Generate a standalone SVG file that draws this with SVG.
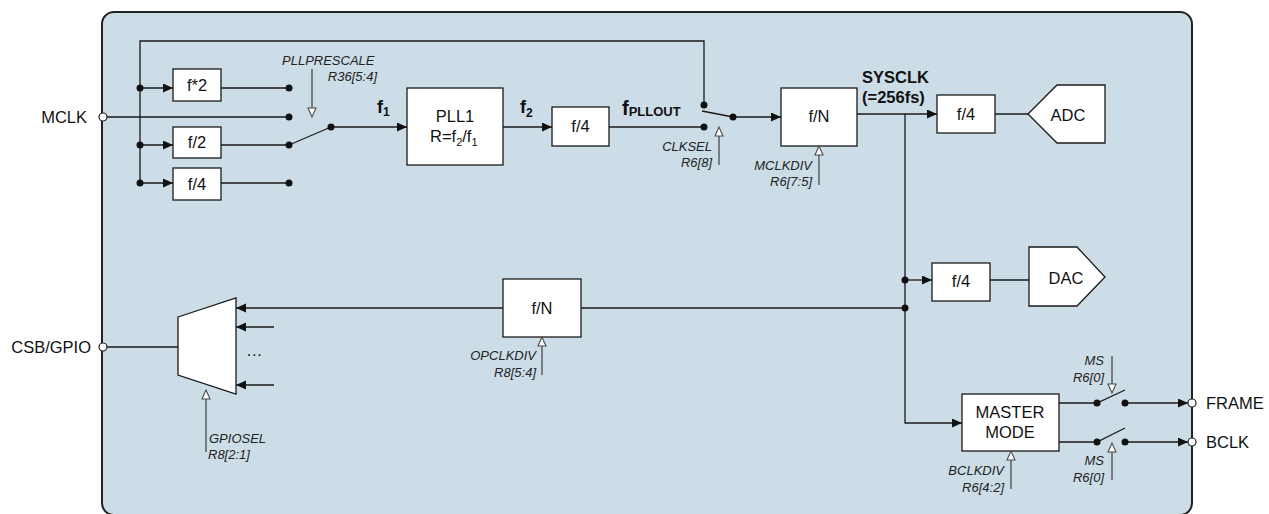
<svg xmlns="http://www.w3.org/2000/svg" width="1269" height="514" viewBox="0 0 1269 514">
<style>
.w{stroke:#1a1a1a;stroke-width:1.3;fill:none}
.box{fill:#fff;stroke:#1a1a1a;stroke-width:1.3}
.ctl{stroke:#4a4a4a;stroke-width:1.3;fill:none}
.tri{fill:#fff;stroke:#4a4a4a;stroke-width:1.1}
.dot{fill:#111}
.pin{fill:#fff;stroke:#222;stroke-width:1.2}
.t{font-family:"Liberation Sans",Arial,sans-serif;font-size:16.5px;fill:#111}
.c{text-anchor:middle}
.i{font-family:"Liberation Sans",Arial,sans-serif;font-size:13px;font-style:italic;fill:#222}
.r{text-anchor:end}
.b{font-family:"Liberation Sans",Arial,sans-serif;font-weight:bold;fill:#111}
</style>
<defs>
<marker id="ah" markerUnits="userSpaceOnUse" markerWidth="11" markerHeight="10" refX="10" refY="4.5" orient="auto">
<path d="M0,0 L10,4.5 L0,9 z" fill="#111"/>
</marker>
</defs>
<rect id="panel" x="102" y="12" width="1090" height="503" rx="12" fill="#CCDDE8" stroke="#222" stroke-width="2"/>

<g id="connectors">
<path class="w" d="M140,183 V41 H704 V105"/>
<path class="w" d="M140,88 H173" marker-end="url(#ah)"/>
<path class="w" d="M140,145 H173" marker-end="url(#ah)"/>
<path class="w" d="M140,183 H173" marker-end="url(#ah)"/>
<path class="w" d="M107,117 H289"/>
<path class="w" d="M221,88 H289 M221,145 H289 M221,183 H289"/>
<path class="w" d="M289,145 L331,127"/>
<path class="w" d="M331,127 H407" marker-end="url(#ah)"/>
<path class="w" d="M503,127 H552" marker-end="url(#ah)"/>
<path class="w" d="M609,127 H704"/>
<path class="w" d="M702,111 L733,117"/>
<path class="w" d="M733,117 H781" marker-end="url(#ah)"/>
<path class="w" d="M857,114 H937" marker-end="url(#ah)"/>
<path class="w" d="M995,114 H1028"/>
<path class="w" d="M905,114 V423 H962" marker-end="url(#ah)"/>
<path class="w" d="M905,280 H932" marker-end="url(#ah)"/>
<path class="w" d="M990,280 H1029"/>
<path class="w" d="M905,308 H581 M503,308 H236" marker-end="url(#ah)"/>
<path class="w" d="M274,327 H236" marker-end="url(#ah)"/>
<path class="w" d="M274,385 H236" marker-end="url(#ah)"/>
<path class="w" d="M107,347 H178"/>
<path class="w" d="M1059,403 H1097 L1125,390 M1125,403 H1188" marker-end="url(#ah)"/>
<path class="w" d="M1059,442 H1097 L1125,428 M1125,442 H1188" marker-end="url(#ah)"/>
</g>

<g id="dots">
<circle class="dot" cx="140" cy="88" r="3.5"/>
<circle class="dot" cx="140" cy="145" r="3.5"/>
<circle class="dot" cx="140" cy="183" r="3.5"/>
<circle class="dot" cx="289" cy="88" r="3.5"/>
<circle class="dot" cx="289" cy="117" r="3.5"/>
<circle class="dot" cx="289" cy="145" r="3.5"/>
<circle class="dot" cx="289" cy="183" r="3.5"/>
<circle class="dot" cx="331" cy="127" r="3.5"/>
<circle class="dot" cx="704" cy="105" r="3.5"/>
<circle class="dot" cx="704" cy="127" r="3.5"/>
<circle class="dot" cx="733" cy="117" r="3.5"/>
<circle class="dot" cx="905" cy="280" r="3.5"/>
<circle class="dot" cx="905" cy="308" r="3.5"/>
<circle class="dot" cx="1097" cy="403" r="3.5"/>
<circle class="dot" cx="1125" cy="403" r="3.5"/>
<circle class="dot" cx="1097" cy="442" r="3.5"/>
<circle class="dot" cx="1125" cy="442" r="3.5"/>
</g>

<g id="pins">
<circle class="pin" cx="103" cy="117" r="4"/>
<circle class="pin" cx="103" cy="347" r="4"/>
<circle class="pin" cx="1192" cy="403" r="4"/>
<circle class="pin" cx="1192" cy="442" r="4"/>
<text class="t" x="87" y="123" text-anchor="end" font-size="17">MCLK</text>
<text class="t" x="91" y="353" text-anchor="end" font-size="17">CSB/GPIO</text>
<text class="t" x="1206" y="409" font-size="17">FRAME</text>
<text class="t" x="1206" y="448" font-size="17">BCLK</text>
</g>

<g id="mul2"><rect class="box" x="173" y="69" width="48" height="32"/><text class="t c" x="197" y="91">f*2</text></g>
<g id="div2"><rect class="box" x="173" y="127" width="48" height="31"/><text class="t c" x="197" y="148">f/2</text></g>
<g id="div4a"><rect class="box" x="173" y="168" width="48" height="32"/><text class="t c" x="197" y="190">f/4</text></g>

<g id="pll1"><rect class="box" x="407" y="88" width="96" height="77"/>
<text class="t c" x="455" y="122">PLL1</text>
<text class="t" x="430" y="142">R=f<tspan font-size="11" dy="4">2</tspan><tspan dy="-4">/f</tspan><tspan font-size="11" dy="4">1</tspan></text>
</g>
<g id="div4b"><rect class="box" x="552" y="107" width="57" height="39"/><text class="t c" x="580.5" y="132">f/4</text></g>
<g id="fdivn"><rect class="box" x="781" y="88" width="76" height="58"/><text class="t c" x="819" y="122">f/N</text></g>
<g id="div4adc"><rect class="box" x="937" y="95" width="58" height="38"/><text class="t c" x="966" y="120">f/4</text></g>
<g id="adc"><path class="box" d="M1028,114 L1057,85 H1105 V143 H1057 Z"/><text class="t c" x="1068" y="121" font-size="21">ADC</text></g>
<g id="div4dac"><rect class="box" x="932" y="263" width="58" height="38"/><text class="t c" x="961" y="287">f/4</text></g>
<g id="dac"><path class="box" d="M1029,247 H1077 L1105,277 L1077,306 H1029 Z"/><text class="t c" x="1066" y="284" font-size="21">DAC</text></g>
<g id="opdiv"><rect class="box" x="503" y="279" width="78" height="58"/><text class="t c" x="542" y="314">f/N</text></g>
<g id="mux"><path class="box" d="M178,317 L236,298 V394 L178,375 Z"/><text class="t" x="246" y="356" font-size="14">…</text></g>
<g id="master"><rect class="box" x="962" y="394" width="97" height="57"/>
<text class="t c" x="1010" y="418">MASTER</text><text class="t c" x="1010" y="438">MODE</text></g>

<g id="labels">
<text class="b" x="377" y="113" font-size="18">f<tspan font-size="12" dy="3">1</tspan></text>
<text class="b" x="520" y="113" font-size="18">f<tspan font-size="12" dy="4">2</tspan></text>
<text class="b" x="622" y="115" font-size="20">f<tspan font-size="13" dy="1">PLLOUT</tspan></text>
<text class="b" x="862" y="83" font-size="16.5">SYSCLK</text>
<text class="b" x="862" y="103" font-size="16.5">(=256fs)</text>
</g>

<g id="controls">
<path class="ctl" d="M312,69 V108"/><polygon class="tri" points="312,117 308,108 316,108"/>
<text class="i" x="282" y="65">PLLPRESCALE</text><text class="i r" x="377" y="81">R36[5:4]</text>
<path class="ctl" d="M719,136 V165"/><polygon class="tri" points="719,127 715,136 723,136"/>
<text class="i r" x="712" y="151">CLKSEL</text><text class="i r" x="712" y="167">R6[8]</text>
<path class="ctl" d="M819,155 V185"/><polygon class="tri" points="819,146 815,155 823,155"/>
<text class="i r" x="812" y="170">MCLKDIV</text><text class="i r" x="812" y="186">R6[7:5]</text>
<path class="ctl" d="M542,346 V375"/><polygon class="tri" points="542,337 538,346 546,346"/>
<text class="i r" x="536" y="360">OPCLKDIV</text><text class="i r" x="536" y="377">R8[5:4]</text>
<path class="ctl" d="M206,399 V452"/><polygon class="tri" points="206,390 202,399 210,399"/>
<text class="i" x="209" y="443">GPIOSEL</text><text class="i" x="208" y="459">R8[2:1]</text>
<path class="ctl" d="M1011,460 V489"/><polygon class="tri" points="1011,451 1007,460 1015,460"/>
<text class="i r" x="1004" y="475">BCLKDIV</text><text class="i r" x="1004" y="492">R6[4:2]</text>
<path class="ctl" d="M1112,356 V384"/><polygon class="tri" points="1112,393 1108,384 1116,384"/>
<text class="i r" x="1104" y="365">MS</text><text class="i r" x="1104" y="382">R6[0]</text>
<path class="ctl" d="M1112,452 V480"/><polygon class="tri" points="1112,443 1108,452 1116,452"/>
<text class="i r" x="1104" y="465">MS</text><text class="i r" x="1104" y="482">R6[0]</text>
</g>
</svg>
